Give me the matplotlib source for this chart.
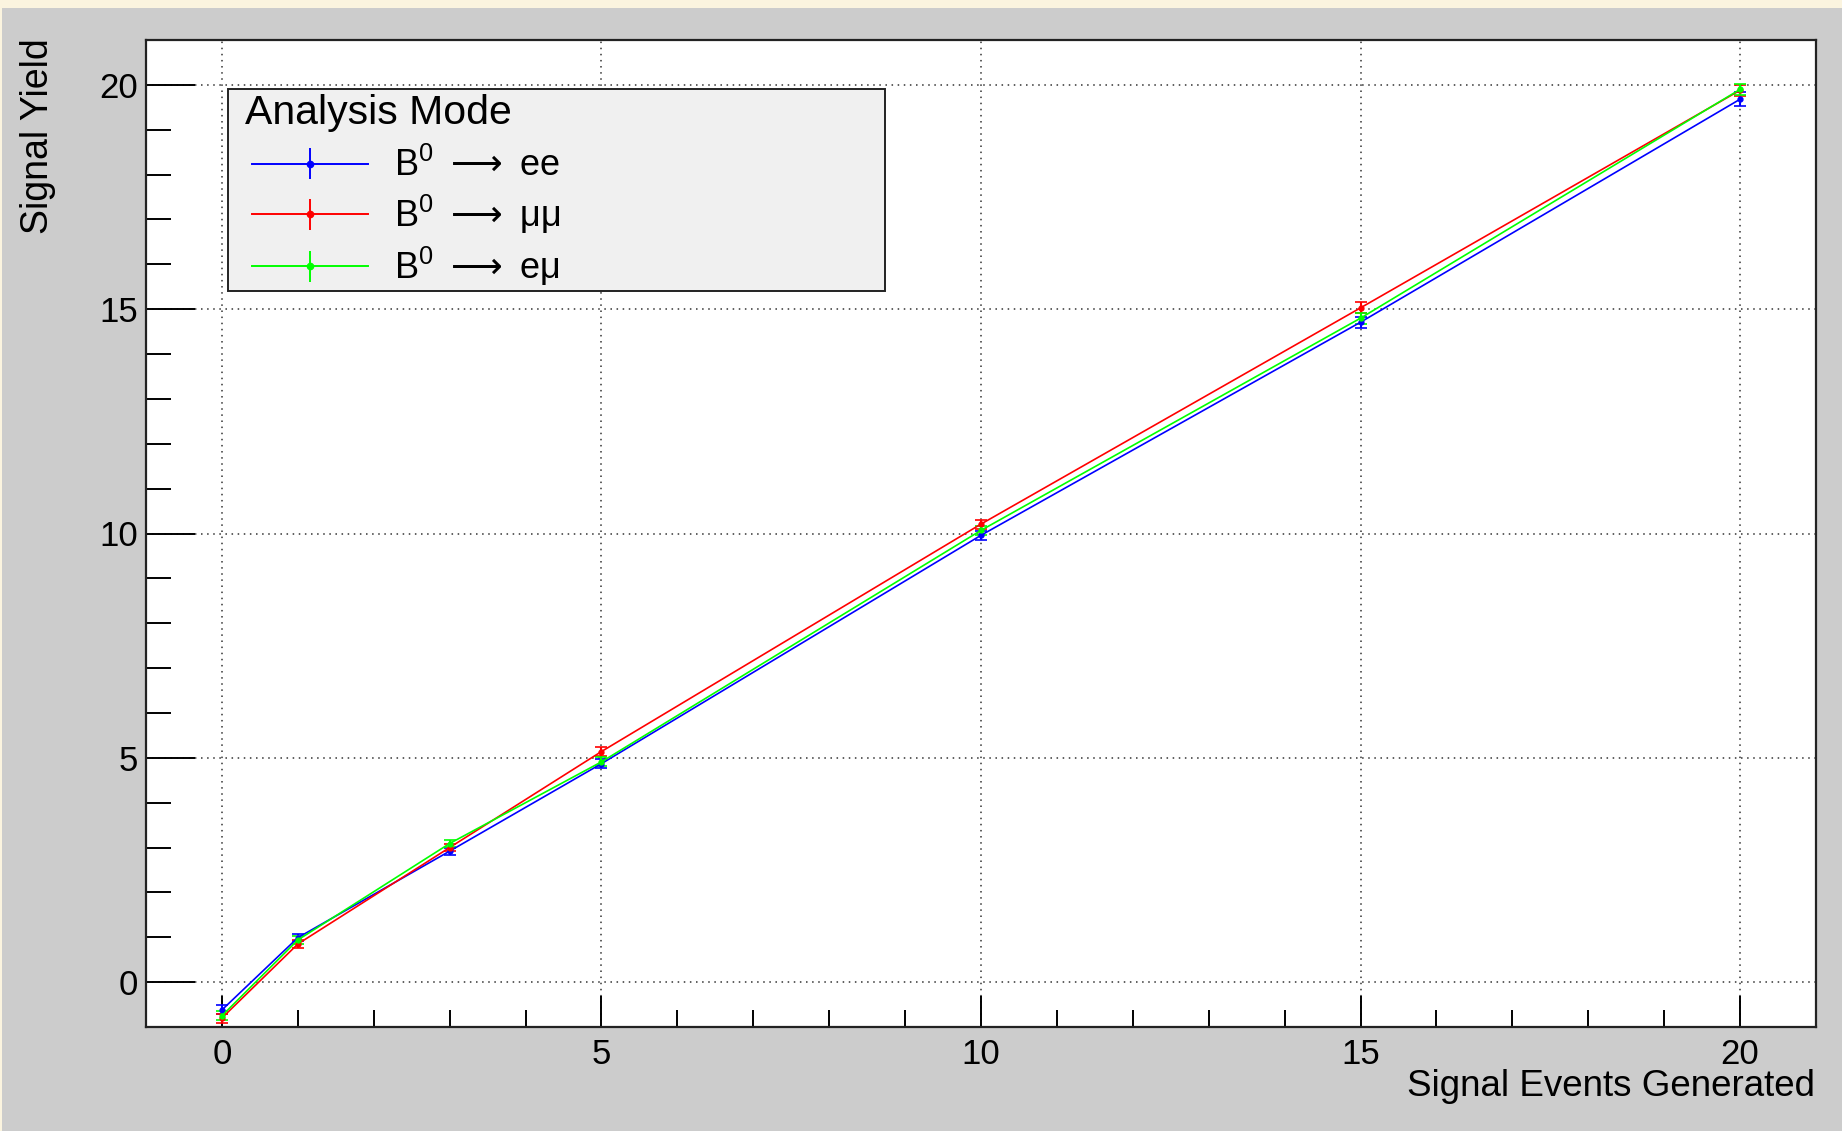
import matplotlib
matplotlib.use("Agg")
import matplotlib.pyplot as plt
import numpy as np
from matplotlib.patches import Rectangle
from matplotlib.container import ErrorbarContainer
from matplotlib.legend_handler import HandlerErrorbar

# data
n_gen = [0, 1, 3, 5, 10, 15, 20]
yield_ee = [-0.62, 0.99, 2.92, 4.87, 9.96, 14.71, 19.68]
yield_mumu = [-0.80, 0.85, 3.00, 5.14, 10.21, 15.03, 19.88]
yield_emu = [-0.75, 0.94, 3.09, 4.91, 10.07, 14.80, 19.90]
err_ee = [0.10, 0.08, 0.08, 0.10, 0.10, 0.12, 0.15]
err_mumu = [0.10, 0.08, 0.08, 0.10, 0.10, 0.12, 0.12]
err_emu = [0.10, 0.08, 0.08, 0.10, 0.10, 0.12, 0.12]
labels = [r"B$^{\mathregular{0}}$ $\longrightarrow$ ee",
          r"B$^{\mathregular{0}}$ $\longrightarrow$ μμ",
          r"B$^{\mathregular{0}}$ $\longrightarrow$ eμ"]
colors = ["#0000ff", "#ff0000", "#00ff00"]

plt.rcParams["font.family"] = ["Liberation Sans", "DejaVu Sans"]
plt.rcParams["mathtext.fontset"] = "dejavusans"

W, H = 1842, 1131
fig = plt.figure(figsize=(W / 100, H / 100), dpi=100, facecolor="#cccccc")
# beige strip along the top and left
fig.patches.append(Rectangle((0, 1 - 8 / H), 1, 8 / H, transform=fig.transFigure,
                             facecolor="#fbf4df", edgecolor="none"))
fig.patches.append(Rectangle((0, 0), 1.5 / W, 1, transform=fig.transFigure,
                             facecolor="#fbf4df", edgecolor="none"))

AX_L, AX_R, AX_T, AX_B = 146, 1816, 40, 1027
ax = fig.add_axes([AX_L / W, 1 - AX_B / H, (AX_R - AX_L) / W, (AX_B - AX_T) / H])
ax.set_facecolor("white")

def px_to_ax(x, y):
    return (x - AX_L) / (AX_R - AX_L), (AX_B - y) / (AX_B - AX_T)

handles = []
for ys, es, lab, c in zip([yield_ee, yield_mumu, yield_emu], [err_ee, err_mumu, err_emu], labels, colors):
    ax.errorbar(n_gen, ys, yerr=es, color=c, lw=1.2, marker="o", ms=3.5,
                elinewidth=1.5, capsize=4, capthick=1.2, zorder=3)
    # proxy for the legend (no caps, like ROOT)
    h = ax.errorbar([np.nan], [np.nan], yerr=[1], color=c, lw=1.4, marker="o", ms=4.5,
                    elinewidth=1.4, capsize=0, label=lab)
    handles.append(h)

ax.set_xlim(-1, 21)
ax.set_ylim(-1, 21)
ax.set_xticks([0, 5, 10, 15, 20])
ax.set_yticks([0, 5, 10, 15, 20])
ax.set_xticks(range(-1, 22), minor=True)
ax.set_yticks(range(-1, 22), minor=True)
ax.grid(True, which="major", color="#333333", linestyle=(0, (1, 3)), lw=1.1)

ax.tick_params(axis="x", which="major", direction="in", length=22, width=1.4, labelsize=25, pad=8)
ax.tick_params(axis="x", which="minor", direction="in", length=12, width=1.4)
ax.tick_params(axis="y", which="major", direction="in", length=35, width=1.4, labelsize=25, pad=6)
ax.tick_params(axis="y", which="minor", direction="in", length=18, width=1.4)
for s in ax.spines.values():
    s.set_linewidth(1.6)
    s.set_color("#222222")

fig.text(1815 / W, 1 - 1087 / H, "Signal Events Generated", ha="right", va="center", fontsize=26.5)
fig.text(38 / W, 1 - 38 / H, "Signal Yield", ha="center", va="top", rotation=90, fontsize=27)

# legend box drawn by hand, title and entries placed inside it
bx0, by0 = px_to_ax(228, 291)
bx1, by1 = px_to_ax(885, 89)
ax.add_patch(Rectangle((bx0, by0), bx1 - bx0, by1 - by0, transform=ax.transAxes,
                       facecolor="#f0f0f0", edgecolor="#222222", lw=1.4, zorder=5))
tx, ty = px_to_ax(245, 124)
ax.text(tx, ty, "Analysis Mode", transform=ax.transAxes, ha="left", va="baseline",
        fontsize=29.5, zorder=6)
lx, ly = px_to_ax(245, 148)
leg = ax.legend(handles=handles, loc="upper left", bbox_to_anchor=(lx, ly), borderaxespad=0,
                fontsize=26, frameon=False, handlelength=3.4, handletextpad=0.72,
                labelspacing=0.24, borderpad=0,
                handler_map={ErrorbarContainer: HandlerErrorbar(xpad=0.2, yerr_size=0.43)})
leg.set_zorder(6)

fig.savefig("out.png", dpi=100, facecolor=fig.get_facecolor())
